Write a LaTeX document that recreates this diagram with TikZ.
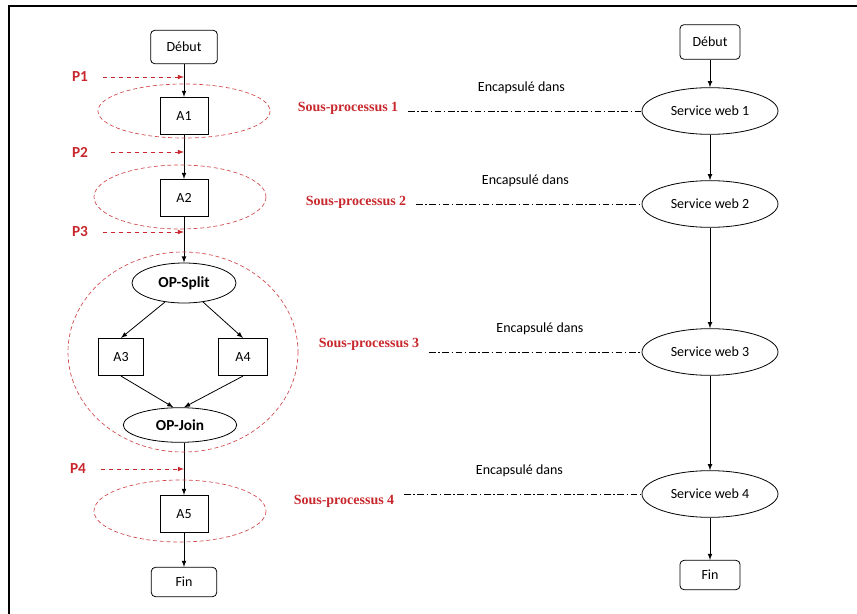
\documentclass[tikz,border=0pt]{standalone}
\usepackage{fontspec}
\setmainfont{Carlito}
\newfontfamily\timesfont{Liberation Serif}
\usetikzlibrary{shapes.geometric}
\definecolor{spred}{RGB}{200,40,45}

\begin{document}
\begin{tikzpicture}[x=0.75pt, y=-0.75pt, >=latex, line width=0.6pt,
    font=\fontsize{10.5}{12}\selectfont,
    act/.style={draw, rectangle, minimum width=36pt, minimum height=28pt},
    term/.style={draw, rounded corners=3pt, minimum width=48pt, minimum height=23pt},
    op/.style={draw, ellipse, inner sep=0pt, minimum width=80pt, minimum height=28pt, font=\fontsize{11.5}{13}\selectfont\bfseries},
    ws/.style={draw, ellipse, inner sep=0pt, minimum width=102pt, minimum height=35pt},
    plab/.style={text=spred, font=\fontsize{11.5}{13}\selectfont\bfseries},
    splab/.style={text=spred, inner sep=2pt, font=\timesfont\fontsize{10.5}{12}\selectfont\bfseries},
    parrow/.style={->, spred, dashed, shorten <=8pt},
    spzone/.style={spred!85, line width=0.5pt, dash pattern=on 3pt off 2pt},
    encap/.style={dash pattern=on 5pt off 2pt on 1pt off 2pt, shorten <=5pt}]
    \useasboundingbox (0,0) rectangle (857,614);
    \draw[line width=1.5pt] (9,614) -- (9,6) -- (857,6);

    % processus (gauche)
    \draw (184,47) node[term, minimum width=50pt, minimum height=25pt] (debutL) {Début};
    \draw (184,116) node[act] (a1) {A1};
    \draw (184,198) node[act] (a2) {A2};
    \draw (184,283) node[op, minimum width=78pt, minimum height=30pt] (split) {OP-Split};
    \draw (121,357) node[act, minimum width=34pt] (a3) {A3};
    \draw (243,357) node[act, minimum width=37pt] (a4) {A4};
    \draw (180,425) node[op, minimum width=85pt, minimum height=26pt] (join) {OP-Join};
    \draw (184,514) node[act] (a5) {A5};
    \draw (184,582) node[term, minimum width=49pt, minimum height=22pt] (finL) {Fin};
    \draw [->] (debutL) -- (a1);
    \draw [->] (a1) -- (a2);
    \draw [->] (a2) -- (split);
    \draw [->] (split.-135) -- (a3.north);
    \draw [->] (split.-45) -- (a4.north);
    \draw [->] (a3.south) -- ([xshift=-5pt]join.north);
    \draw [->] (a4.south) -- ([xshift=3pt]join.north);
    \draw [->] (join.south -| a5) -- (a5);
    \draw [->] (a5) -- (finL);

    % points de coupure
    \draw (80,77) node[plab] (p1) {P1};
    \draw (80,152) node[plab] (p2) {P2};
    \draw (80,232) node[plab] (p3) {P3};
    \draw (78,469) node[plab] (p4) {P4};
    \draw [parrow] (p1) -- (p1 -| a1);
    \draw [parrow, shorten <=14pt] (p2) -- (p2 -| a2);
    \draw [parrow] (p3) -- (p3 -| a2);
    \draw [parrow] (p4) -- (p4 -| a5);

    % sous-processus
    \draw [spzone] (184,111) ellipse [x radius=86, y radius=27];
    \draw [spzone] (180,197) ellipse [x radius=86, y radius=32];
    \draw [spzone] (183,352) ellipse [x radius=115, y radius=100];
    \draw [spzone] (180,511) ellipse [x radius=86, y radius=31];

    % services web (droite)
    \draw (710,42) node[term, minimum width=45pt, minimum height=26pt] (debutR) {Début};
    \draw (710,111) node[ws] (sw1) {Service web 1};
    \draw (710,204) node[ws] (sw2) {Service web 2};
    \draw (710,352) node[ws] (sw3) {Service web 3};
    \draw (710,494) node[ws] (sw4) {Service web 4};
    \draw (710,575) node[term, minimum width=45pt, minimum height=22pt] (finR) {Fin};
    \draw [->] (debutR) -- (sw1);
    \draw [->] (sw1) -- (sw2);
    \draw [->] (sw2) -- (sw3);
    \draw [->] (sw3) -- (sw4);
    \draw [->] (sw4) -- (finR);

    \draw (348,108) node[splab] (sp1) {Sous-processus 1};
    \draw (356,202) node[splab] (sp2) {Sous-processus 2};
    \draw (369,344) node[splab] (sp3) {Sous-processus 3};
    \draw (344,501) node[splab] (sp4) {Sous-processus 4};
    \draw [encap] (sp1.east |- sw1.west) -- (sw1.west) node[midway, above=9pt] (enc1) {Encapsulé dans};
    \draw [encap] (sp2.east |- sw2.west) -- (sw2.west) node[midway, above=9pt] (enc2) {Encapsulé dans};
    \draw [encap] (sp3.east |- sw3.west) -- (sw3.west) node[midway, above=9pt, xshift=6pt] (enc3) {Encapsulé dans};
    \draw [encap] (sp4.east |- sw4.west) -- (sw4.west) node[midway, above=9pt] (enc4) {Encapsulé dans};
\end{tikzpicture}
\end{document}
